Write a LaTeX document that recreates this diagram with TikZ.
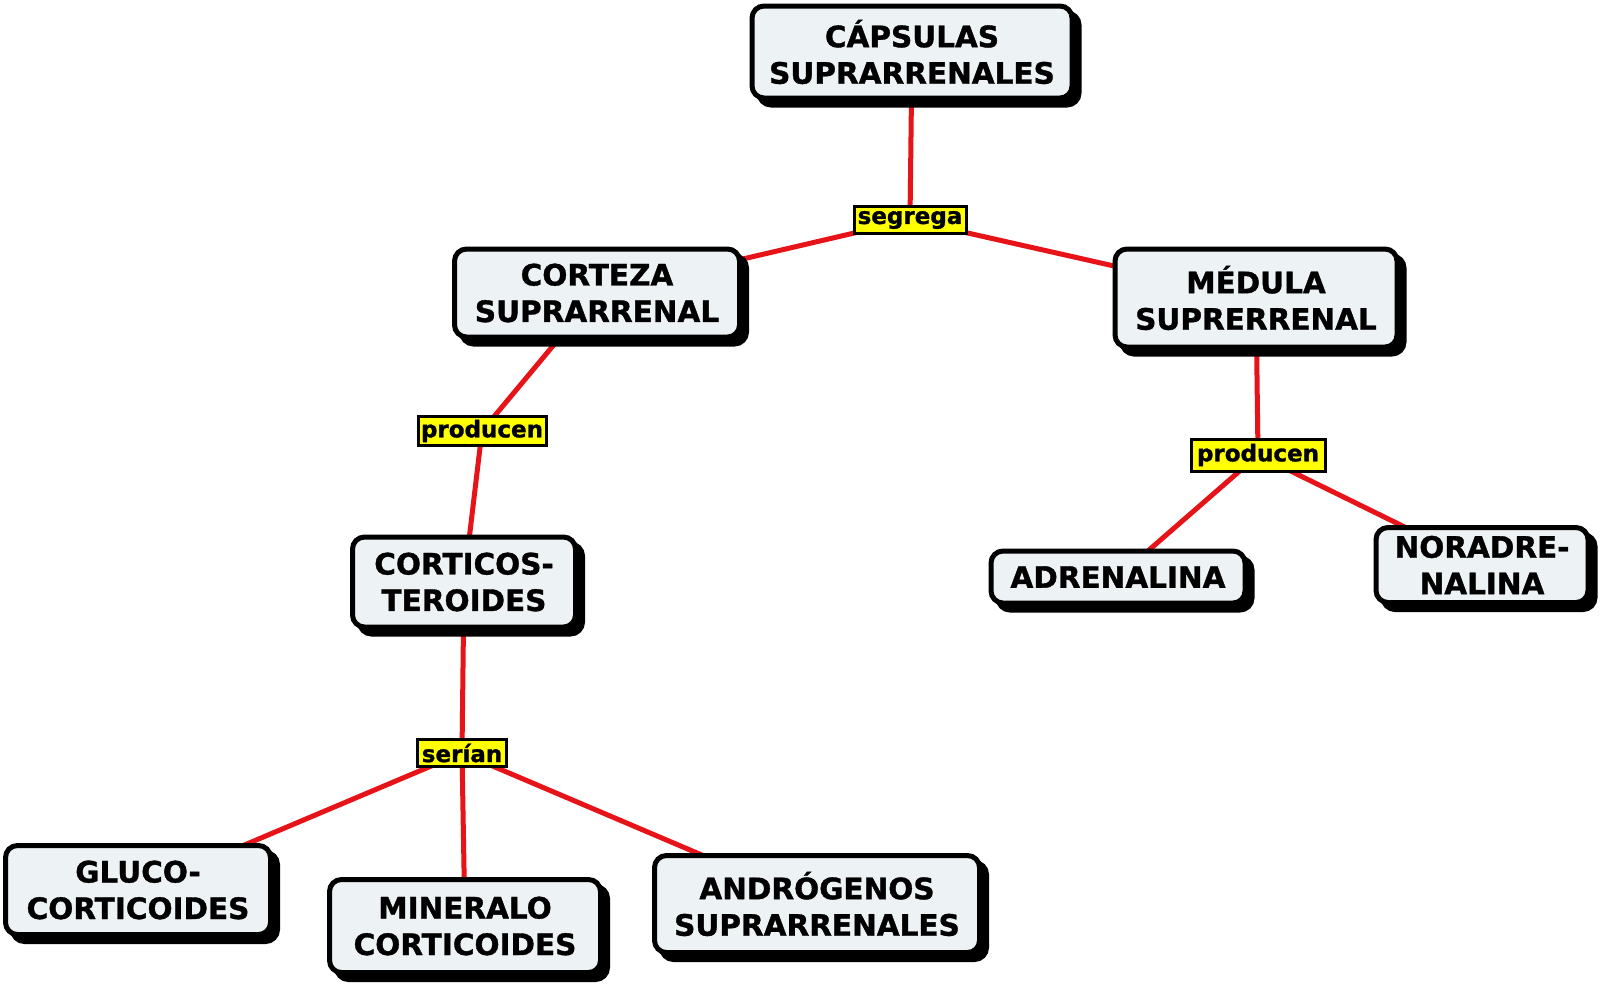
\documentclass[tikz,border=0pt]{standalone}
\usepackage{fontspec}
\setmainfont{DejaVu Sans}[BoldFeatures={FakeBold=1.2}]
\usetikzlibrary{shadows,backgrounds}
\definecolor{boxfill}{HTML}{EDF2F4}
\definecolor{linkred}{RGB}{230,20,25}
\definecolor{lblyellow}{HTML}{FFFF00}
\newcommand\bigtxt{\fontsize{29.5}{36.5}\selectfont\bfseries}
\newcommand\smalltxt{\fontsize{23}{26}\selectfont\bfseries}
\tikzset{
  conceptbox/.style={draw=black, line width=5pt, rounded corners=12pt, fill=boxfill,
    align=center, font=\bigtxt, text=black, inner sep=0pt,
    drop shadow={shadow xshift=7pt, shadow yshift=-7pt, fill=black, draw=black, line width=5pt, opacity=1}},
  linklabel/.style={draw=black, line width=3pt, fill=lblyellow, font=\smalltxt,
    text=black, inner sep=0pt, align=center},
  link/.style={draw=linkred, line width=5pt}
}
\begin{document}
\begin{tikzpicture}[x=1pt,y=-1pt]
\useasboundingbox (0,0) rectangle (1600,983);
\node[conceptbox, minimum width=320pt, minimum height=92pt] (cap) at (912,52) {CÁPSULAS\\SUPRARRENALES};
\node[linklabel, minimum width=112pt, minimum height=27pt] (seg) at (910,220) {segrega};
\node[conceptbox, minimum width=285pt, minimum height=88pt] (cor) at (597,293) {CORTEZA\\SUPRARRENAL};
\node[conceptbox, minimum width=282pt, minimum height=98pt] (med) at (1256,298) {MÉDULA\\SUPRERRENAL};
\node[linklabel, minimum width=128pt, minimum height=29pt] (prl) at (482,431) {producen};
\node[linklabel, minimum width=134pt, minimum height=32pt] (prr) at (1258,455) {producen};
\node[conceptbox, minimum width=223pt, minimum height=90pt] (cts) at (464,582) {CORTICOS-\\TEROIDES};
\node[linklabel, minimum width=89pt, minimum height=27pt] (ser) at (462,753) {serían};
\node[conceptbox, minimum width=254pt, minimum height=52pt] (adr) at (1118,577) {ADRENALINA};
\node[conceptbox, minimum width=212pt, minimum height=75pt] (nor) at (1482,565) {NORADRE-\\NALINA};
\node[conceptbox, minimum width=265pt, minimum height=89pt] (glu) at (138,890) {GLUCO-\\CORTICOIDES};
\node[conceptbox, minimum width=271pt, minimum height=93pt] (mnr) at (465,926) {MINERALO\\CORTICOIDES};
\node[conceptbox, minimum width=325pt, minimum height=97pt] (and) at (817,904) {ANDRÓGENOS\\SUPRARRENALES};
\begin{scope}[on background layer]
\fill[white] (0,0) rectangle (1600,983);
\draw[link] (cap.center) -- (seg.center);
\draw[link] (seg.center) -- (cor.center);
\draw[link] (seg.center) -- (med.center);
\draw[link] (cor.center) -- (prl.center);
\draw[link] (prl.center) -- (cts.center);
\draw[link] (med.center) -- (prr.center);
\draw[link] (prr.center) -- (adr.center);
\draw[link] (prr.center) -- (nor.center);
\draw[link] (cts.center) -- (ser.center);
\draw[link] (ser.center) -- (glu.center);
\draw[link] (ser.center) -- (mnr.center);
\draw[link] (ser.center) -- (and.center);
\end{scope}
\end{tikzpicture}
\end{document}
